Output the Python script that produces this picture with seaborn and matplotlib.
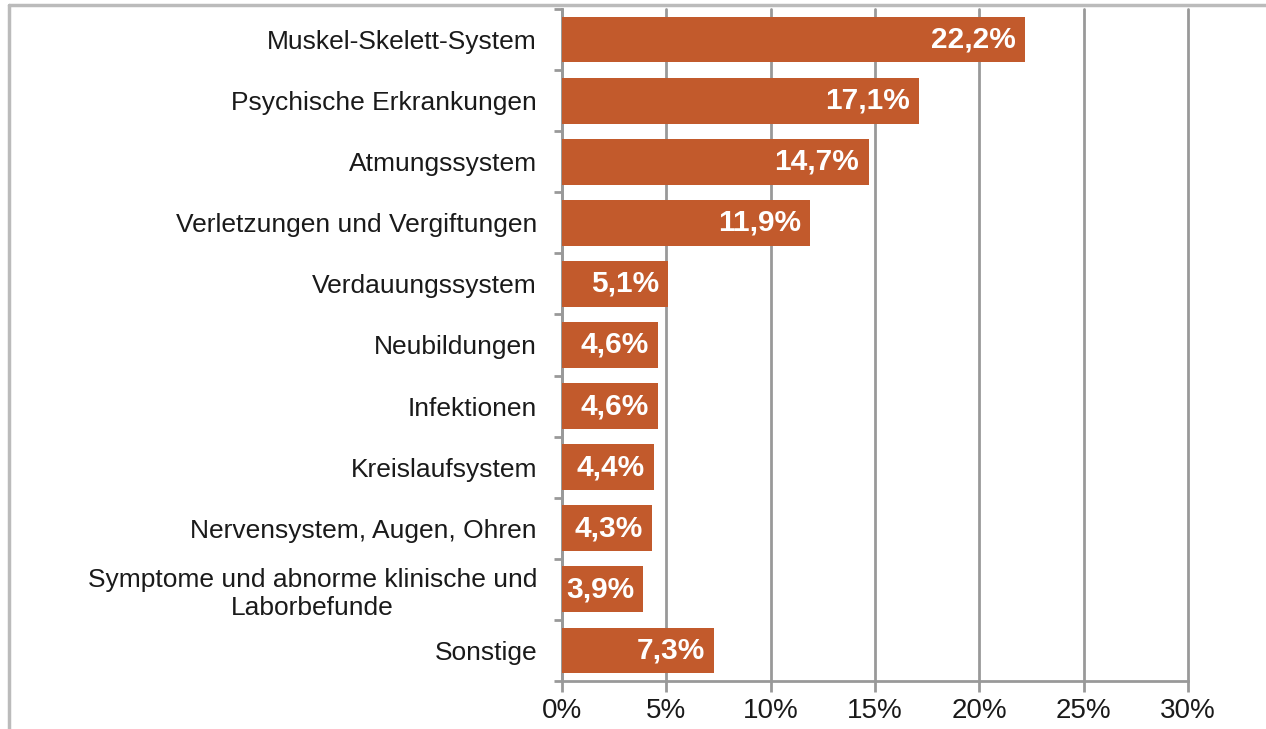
import matplotlib
matplotlib.use("Agg")
import matplotlib.pyplot as plt
import seaborn as sns
import numpy as np
from matplotlib.lines import Line2D

# Daten
kategorien = [
    "Muskel-Skelett-System",
    "Psychische Erkrankungen",
    "Atmungssystem",
    "Verletzungen und Vergiftungen",
    "Verdauungssystem",
    "Neubildungen",
    "Infektionen",
    "Kreislaufsystem",
    "Nervensystem, Augen, Ohren",
    "Symptome und abnorme klinische und\nLaborbefunde",
    "Sonstige",
]
anteile = [22.2, 17.1, 14.7, 11.9, 5.1, 4.6, 4.6, 4.4, 4.3, 3.9, 7.3]
x_ticks = [0, 5, 10, 15, 20, 25, 30]

sns.set_style("white")
plt.rcParams["font.family"] = ["Liberation Sans", "DejaVu Sans"]
plt.rcParams["text.color"] = "#1a1a1a"
plt.rcParams["xtick.labelcolor"] = "#1a1a1a"
plt.rcParams["ytick.labelcolor"] = "#1a1a1a"

fig = plt.figure(figsize=(12.66, 7.29), dpi=100)
ax = fig.add_axes([0.4439, 0.0658, 0.4945, 0.9219])

sns.barplot(x=anteile, y=kategorien, orient="h", color="#C25A2C",
            saturation=1, width=0.75, linewidth=0, ax=ax, zorder=3)

# Balkenbeschriftung
for p, v in zip(ax.patches, anteile):
    ax.text(p.get_width() - 0.45, p.get_y() + p.get_height() / 2,
            f"{v:.1f}%".replace(".", ","), ha="right", va="center",
            color="white", fontsize=21.5, fontweight="bold", zorder=4)

ax.set_xlim(0, 30)
ax.set_ylim(len(kategorien) - 0.5, -0.5)
ax.set_xticks(x_ticks)
ax.set_xticklabels([f"{t}%" for t in x_ticks], fontsize=20)
ax.tick_params(axis="x", length=8, width=2, color="#999999", pad=4, bottom=True)
ax.tick_params(axis="y", length=0, pad=18, labelsize=19)
for lab in ax.get_yticklabels():
    lab.set_multialignment("center")
ax.set_yticks(np.arange(-0.5, len(kategorien), 1), minor=True)
ax.tick_params(axis="y", which="minor", length=6, width=2, color="#999999", left=True)

ax.grid(axis="x", color="#999999", linewidth=2, zorder=0)
for gl in ax.get_xgridlines():
    gl.set_clip_on(False)
for s in ["top", "right"]:
    ax.spines[s].set_visible(False)
for s in ["left", "bottom"]:
    ax.spines[s].set_color("#999999")
    ax.spines[s].set_linewidth(2)
ax.set_xlabel("")
ax.set_ylabel("")

# äußerer Rahmen
fig.add_artist(Line2D([0.0071, 0.0071], [0, 0.993], color="#bbbbbb", lw=2.5))
fig.add_artist(Line2D([0.0071, 1], [0.993, 0.993], color="#bbbbbb", lw=2.5))

fig.savefig("out.png", dpi=100)
